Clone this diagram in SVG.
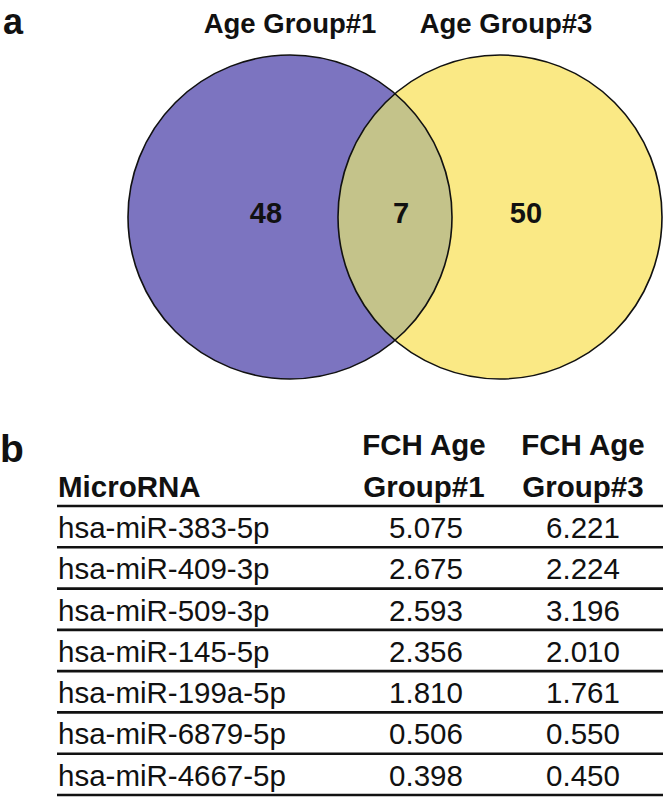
<svg xmlns="http://www.w3.org/2000/svg" width="666" height="799" viewBox="0 0 666 799">
<style>
.lbl{font-family:"Liberation Sans",Arial,sans-serif;font-weight:bold;fill:#111}
.t{font-family:"Liberation Sans",Arial,sans-serif;font-size:29.5px;fill:#111}
.h{font-family:"Liberation Sans",Arial,sans-serif;font-size:29.5px;font-weight:bold;fill:#111}
.ring{fill:none;stroke:#111;stroke-width:1.6}
.rule{stroke:#111;stroke-width:2.6}
</style>
<defs>
<clipPath id="clipR"><circle cx="500" cy="217" r="162"/></clipPath>
</defs>
<rect width="666" height="799" fill="#fff"/>
<text class="lbl" x="3" y="34" font-size="36">a</text>
<g id="venn">
<g id="set1">
<circle cx="290" cy="217" r="162" fill="#7C74C0"/>
</g>
<g id="set3">
<circle cx="500" cy="217" r="162" fill="#FAE985"/>
</g>
<g id="overlap">
<circle cx="290" cy="217" r="162" fill="#C4C38A" clip-path="url(#clipR)"/>
</g>
<circle class="ring" cx="290" cy="217" r="162"/>
<circle class="ring" cx="500" cy="217" r="162"/>
<text class="lbl" x="290" y="33" font-size="27.5" text-anchor="middle">Age Group#1</text>
<text class="lbl" x="506" y="33" font-size="27.5" text-anchor="middle">Age Group#3</text>
<text class="lbl" x="266" y="223" font-size="29" text-anchor="middle">48</text>
<text class="lbl" x="401" y="223" font-size="29" text-anchor="middle">7</text>
<text class="lbl" x="526" y="223" font-size="29" text-anchor="middle">50</text>
</g>
<text class="lbl" x="0" y="462" font-size="39">b</text>
<g id="table">
<text class="h" x="424" y="455" text-anchor="middle">FCH Age</text>
<text class="h" x="583" y="455" text-anchor="middle">FCH Age</text>
<text class="h" x="58" y="497">MicroRNA</text>
<text class="h" x="424" y="497" text-anchor="middle">Group#1</text>
<text class="h" x="583" y="497" text-anchor="middle">Group#3</text>
<g id="rules">
<line class="rule" x1="57" y1="506" x2="663" y2="506"/>
<line class="rule" x1="57" y1="547.3" x2="663" y2="547.3"/>
<line class="rule" x1="57" y1="588.6" x2="663" y2="588.6"/>
<line class="rule" x1="57" y1="629.9" x2="663" y2="629.9"/>
<line class="rule" x1="57" y1="671.1" x2="663" y2="671.1"/>
<line class="rule" x1="57" y1="712.4" x2="663" y2="712.4"/>
<line class="rule" x1="57" y1="753.7" x2="663" y2="753.7"/>
<line class="rule" x1="57" y1="795" x2="663" y2="795"/>
</g>
<text class="t" x="58" y="538">hsa-miR-383-5p</text>
<text class="t" x="426" y="538" text-anchor="middle">5.075</text>
<text class="t" x="583" y="538" text-anchor="middle">6.221</text>
<text class="t" x="58" y="579.3">hsa-miR-409-3p</text>
<text class="t" x="426" y="579.3" text-anchor="middle">2.675</text>
<text class="t" x="583" y="579.3" text-anchor="middle">2.224</text>
<text class="t" x="58" y="620.6">hsa-miR-509-3p</text>
<text class="t" x="426" y="620.6" text-anchor="middle">2.593</text>
<text class="t" x="583" y="620.6" text-anchor="middle">3.196</text>
<text class="t" x="58" y="661.9">hsa-miR-145-5p</text>
<text class="t" x="426" y="661.9" text-anchor="middle">2.356</text>
<text class="t" x="583" y="661.9" text-anchor="middle">2.010</text>
<text class="t" x="58" y="703.1">hsa-miR-199a-5p</text>
<text class="t" x="426" y="703.1" text-anchor="middle">1.810</text>
<text class="t" x="583" y="703.1" text-anchor="middle">1.761</text>
<text class="t" x="58" y="744.4">hsa-miR-6879-5p</text>
<text class="t" x="426" y="744.4" text-anchor="middle">0.506</text>
<text class="t" x="583" y="744.4" text-anchor="middle">0.550</text>
<text class="t" x="58" y="785.7">hsa-miR-4667-5p</text>
<text class="t" x="426" y="785.7" text-anchor="middle">0.398</text>
<text class="t" x="583" y="785.7" text-anchor="middle">0.450</text>
</g>
</svg>
